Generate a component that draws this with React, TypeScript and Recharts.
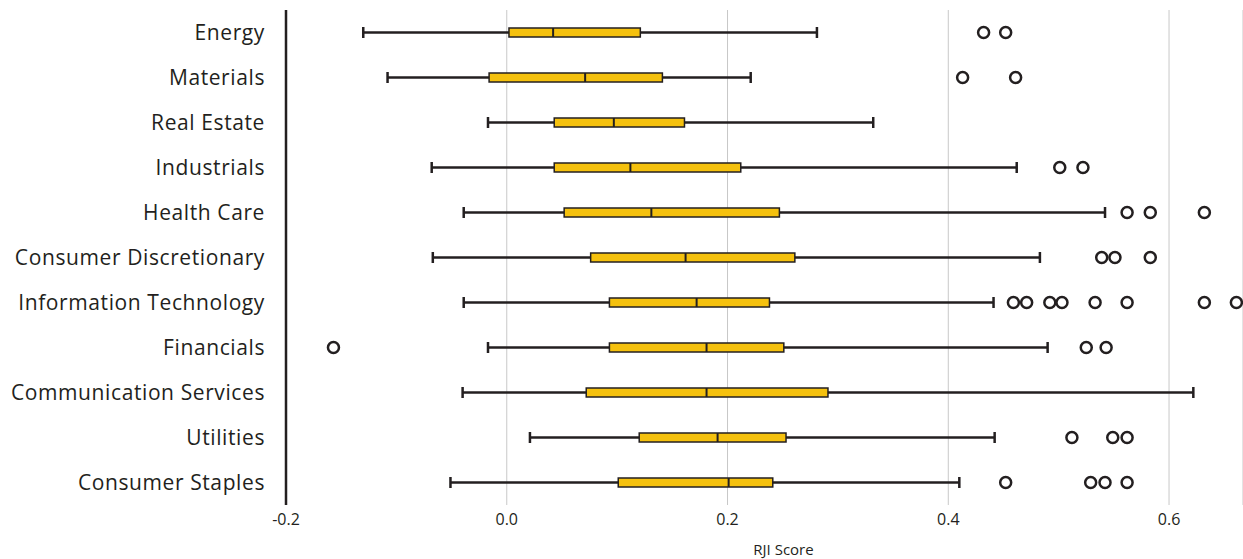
import * as React from 'react';
import { Bar, CartesianGrid, ComposedChart, Label, Scatter, XAxis, YAxis } from 'recharts';

const categories = [
  'Energy',
  'Materials',
  'Real Estate',
  'Industrials',
  'Health Care',
  'Consumer Discretionary',
  'Information Technology',
  'Financials',
  'Communication Services',
  'Utilities',
  'Consumer Staples'
];

const mins = [-0.13, -0.108, -0.017, -0.068, -0.039, -0.067, -0.039, -0.017, -0.04, 0.021, -0.051];
const q1s = [0.002, -0.016, 0.043, 0.043, 0.052, 0.076, 0.093, 0.093, 0.072, 0.12, 0.101];
const medians = [0.042, 0.071, 0.097, 0.112, 0.131, 0.162, 0.172, 0.181, 0.181, 0.191, 0.201];
const q3s = [0.121, 0.141, 0.161, 0.212, 0.247, 0.261, 0.238, 0.251, 0.291, 0.253, 0.241];
const maxs = [0.281, 0.221, 0.332, 0.462, 0.542, 0.483, 0.441, 0.49, 0.622, 0.442, 0.41];

const outliers: number[][] = [
  [0.432, 0.452],
  [0.413, 0.461],
  [],
  [0.501, 0.522],
  [0.562, 0.583, 0.632],
  [0.539, 0.551, 0.583],
  [0.459, 0.471, 0.492, 0.503, 0.533, 0.562, 0.632, 0.661],
  [-0.157, 0.525, 0.543],
  [],
  [0.512, 0.549, 0.562],
  [0.452, 0.529, 0.542, 0.562]
];

const xTicks = [-0.2, 0, 0.2, 0.4, 0.6];

const rows = categories.map((name, i) => ({
  name,
  min: mins[i],
  q1: q1s[i],
  median: medians[i],
  q3: q3s[i],
  max: maxs[i]
}));

const outlierPoints = categories.flatMap((name, i) => outliers[i].map((value) => ({ name, value })));

const INK = '#231f20';
const GOLD = '#f5c10e';
const FONT = "'Open Sans', sans-serif";

function BoxShape(props: any) {
  const { x, y, width, height, payload } = props;
  const { min, q1, median, q3, max } = payload;
  const k = width / (max - min);
  const px = (v: number) => x + (v - min) * k;
  const cy = y + height / 2;
  const boxH = 9;
  return (
    <g>
      <line x1={px(min)} x2={px(max)} y1={cy} y2={cy} stroke={INK} strokeWidth={2.5} />
      <line x1={px(min)} x2={px(min)} y1={cy - 5.5} y2={cy + 5.5} stroke={INK} strokeWidth={2.5} />
      <line x1={px(max)} x2={px(max)} y1={cy - 5.5} y2={cy + 5.5} stroke={INK} strokeWidth={2.5} />
      <rect x={px(q1)} y={cy - boxH / 2} width={px(q3) - px(q1)} height={boxH} fill={GOLD} stroke={INK} strokeWidth={1.5} />
      <line x1={px(median)} x2={px(median)} y1={cy - boxH / 2} y2={cy + boxH / 2} stroke={INK} strokeWidth={2} />
    </g>
  );
}

function OutlierShape(props: any) {
  const { cx, cy } = props;
  return <circle cx={cx} cy={cy} r={5.5} fill='#fff' stroke={INK} strokeWidth={2.5} />;
}

export default function App() {
  return (
    <div style={{ position: 'absolute', left: 0, top: 0, background: '#fff' }}>
      <ComposedChart
        width={1243}
        height={559}
        data={rows}
        layout='vertical'
        margin={{ top: 10, right: 0, bottom: 0, left: 0 }}
      >
        <CartesianGrid horizontal={false} stroke='#c8c8c8' />
        <XAxis
          type='number'
          domain={[-0.2, 0.667]}
          ticks={xTicks}
          allowDataOverflow
          axisLine={false}
          tickLine={false}
          tickSize={0}
          tickMargin={9}
          height={54}
          tick={{ fill: INK, fontSize: 16, fontFamily: FONT }}
          tickFormatter={(v: number) => v.toFixed(1)}
        >
          <Label value='RJI Score' position='insideBottom' dx={19} offset={4} fill={INK} fontSize={15} fontFamily={FONT} />
        </XAxis>
        <YAxis
          type='category'
          dataKey='name'
          allowDuplicatedCategory={false}
          width={286}
          axisLine={{ stroke: INK, strokeWidth: 2.5 }}
          tickLine={false}
          tickSize={0}
          tickMargin={21}
          interval={0}
          tick={{ fill: INK, fontSize: 21, fontFamily: FONT, letterSpacing: 0.6 }}
        />
        <Bar dataKey={(d: any) => [d.min, d.max]} barSize={11} shape={BoxShape} isAnimationActive={false} />
        <Scatter data={outlierPoints} dataKey='value' shape={OutlierShape} isAnimationActive={false} />
      </ComposedChart>
    </div>
  );
}
